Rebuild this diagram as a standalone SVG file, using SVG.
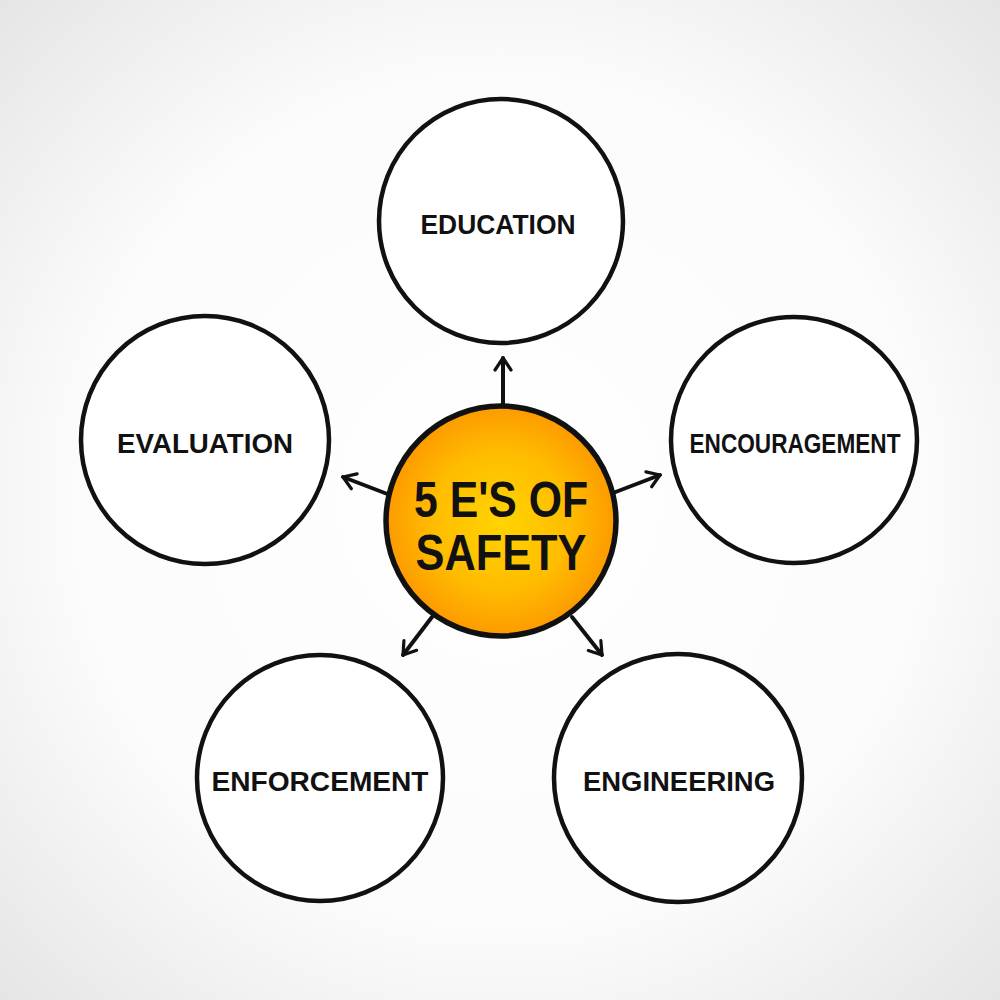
<svg xmlns="http://www.w3.org/2000/svg" width="1000" height="1000" viewBox="0 0 1000 1000">
<defs>
<radialGradient id="bg" cx="50%" cy="50%" r="72%">
<stop offset="0" stop-color="#ffffff"/>
<stop offset="0.6" stop-color="#fbfbfb"/>
<stop offset="1" stop-color="#e4e4e4"/>
</radialGradient>
<radialGradient id="core" cx="50%" cy="50%" r="50%">
<stop offset="0" stop-color="#ffd400"/>
<stop offset="0.6" stop-color="#ffbc00"/>
<stop offset="1" stop-color="#fd9a00"/>
</radialGradient>
<marker id="ah" viewBox="0 0 20 20" refX="16" refY="10" markerWidth="20" markerHeight="20" markerUnits="userSpaceOnUse" orient="auto">
<path d="M4,2 L16,10 L4,18" fill="none" stroke="#111" stroke-width="3.2" stroke-linecap="round" stroke-linejoin="round"/>
</marker>
<style>
.node{fill:#fff;stroke:#111;stroke-width:4.5}
.lbl{font-family:"Liberation Sans",Arial,sans-serif;font-weight:bold;font-size:27px;fill:#111;text-anchor:middle}
.big{font-family:"Liberation Sans",Arial,sans-serif;font-weight:bold;font-size:50px;fill:#111;text-anchor:middle}
.con{stroke:#111;stroke-width:4;fill:none;stroke-linecap:round;marker-end:url(#ah)}
</style>
</defs>
<rect width="1000" height="1000" fill="url(#bg)"/>
<g id="connectors">
<line class="con" x1="503" y1="407" x2="503" y2="358"/>
<line class="con" x1="390" y1="495" x2="343" y2="477"/>
<line class="con" x1="613" y1="493" x2="660" y2="475"/>
<line class="con" x1="432" y1="617" x2="403" y2="655"/>
<line class="con" x1="572" y1="617" x2="602" y2="655"/>
</g>
<g id="education">
<circle class="node" cx="501" cy="221" r="122"/>
<text class="lbl" x="498" y="234" textLength="155" lengthAdjust="spacingAndGlyphs">EDUCATION</text>
</g>
<g id="encouragement">
<circle class="node" cx="794" cy="440" r="123"/>
<text class="lbl" x="795" y="453" textLength="211" lengthAdjust="spacingAndGlyphs">ENCOURAGEMENT</text>
</g>
<g id="evaluation">
<circle class="node" cx="205" cy="440" r="124"/>
<text class="lbl" x="205" y="453" textLength="176" lengthAdjust="spacingAndGlyphs">EVALUATION</text>
</g>
<g id="enforcement">
<circle class="node" cx="320" cy="778" r="123"/>
<text class="lbl" x="320" y="791" textLength="217" lengthAdjust="spacingAndGlyphs">ENFORCEMENT</text>
</g>
<g id="engineering">
<circle class="node" cx="678" cy="778" r="124"/>
<text class="lbl" x="679" y="791" textLength="192" lengthAdjust="spacingAndGlyphs">ENGINEERING</text>
</g>
<g id="center">
<circle cx="501" cy="521" r="115" fill="url(#core)" stroke="#111" stroke-width="5.5"/>
<text class="big" x="501" y="517" textLength="174" lengthAdjust="spacingAndGlyphs" font-size="46">5 E'S OF</text>
<text class="big" x="501" y="570" textLength="171" lengthAdjust="spacingAndGlyphs">SAFETY</text>
</g>
</svg>
